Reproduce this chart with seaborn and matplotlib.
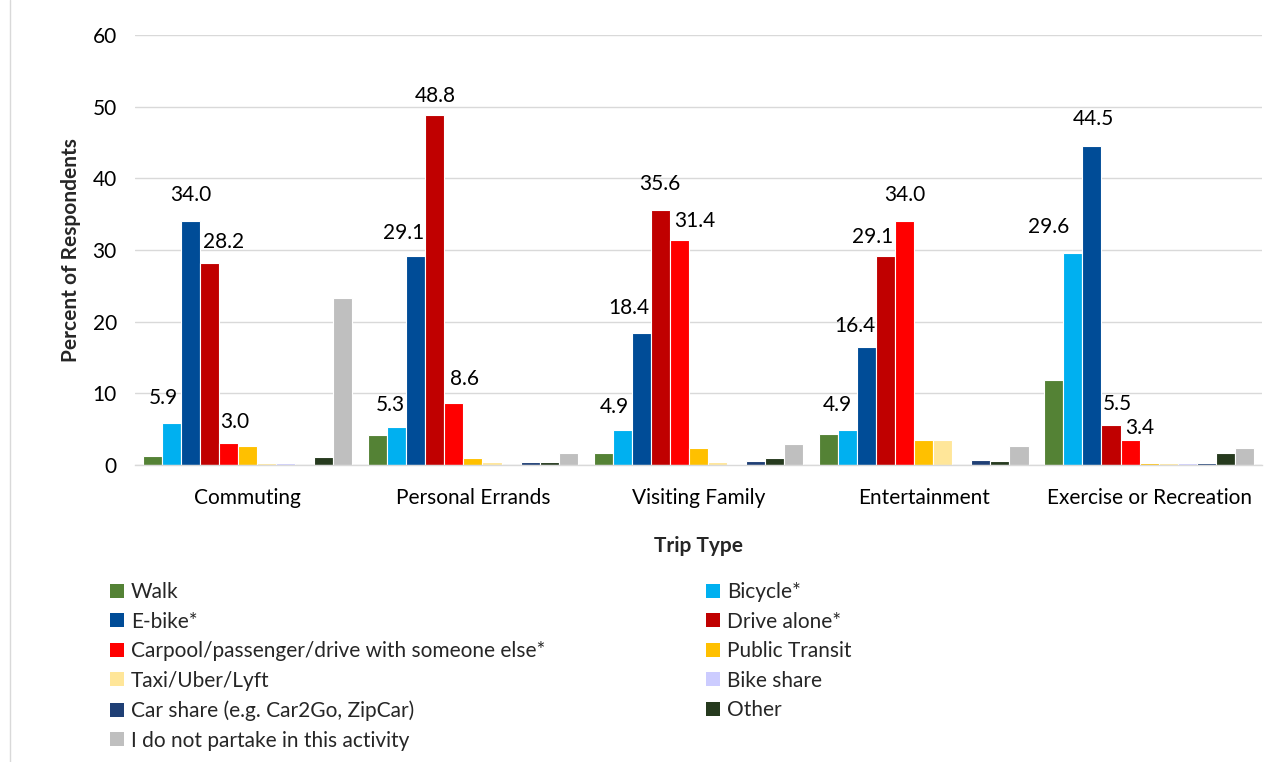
import matplotlib
matplotlib.use("Agg")
import matplotlib.pyplot as plt
import seaborn as sns
import pandas as pd
from matplotlib.patches import Patch
from matplotlib.lines import Line2D

trip_types = ["Commuting", "Personal Errands", "Visiting Family", "Entertainment", "Exercise or Recreation"]
modes = ["Walk", "Bicycle*", "E-bike*", "Drive alone*", "Carpool/passenger/drive with someone else*",
         "Public Transit", "Taxi/Uber/Lyft", "Bike share", "Car share (e.g. Car2Go, ZipCar)", "Other",
         "I do not partake in this activity"]
colors = ["#548235", "#00B0F0", "#004C97", "#C00000", "#FF0000", "#FFC000", "#FFE699", "#CCCCFF",
          "#1F3F75", "#263A1E", "#BFBFBF"]

walk = [1.3, 4.1, 1.7, 4.3, 11.8]
bicycle = [5.9, 5.3, 4.9, 4.9, 29.6]
ebike = [34.0, 29.1, 18.4, 16.4, 44.5]
drive_alone = [28.2, 48.8, 35.6, 29.1, 5.5]
carpool = [3.0, 8.6, 31.4, 34.0, 3.4]
transit = [2.6, 0.9, 2.3, 3.4, 0.3]
taxi = [0.2, 0.4, 0.4, 3.4, 0.2]
bike_share = [0.2, 0.0, 0.1, 0.0, 0.2]
car_share = [0.0, 0.4, 0.6, 0.7, 0.2]
other = [1.1, 0.4, 0.9, 0.6, 1.6]
no_activity = [23.3, 1.6, 2.9, 2.6, 2.4]

series = [walk, bicycle, ebike, drive_alone, carpool, transit, taxi, bike_share, car_share, other, no_activity]

# label placement nudges (pixels): horizontal shift and height of label centre above bar top
label_dx = {
    "Bicycle*": [-8, -6, -8, -10, -24],
    "E-bike*": [0, -12, -12, -12, 1],
    "Drive alone*": [14, 0, 0, -13, 6],
    "Carpool/passenger/drive with someone else*": [6, 11, 16, 0, 10],
}
label_dy = {
    "Bicycle*": [25, 22, 23, 25, 26],
    "E-bike*": [26, 23, 25, 21, 27],
    "Drive alone*": [21, 19, 26, 19, 21],
    "Carpool/passenger/drive with someone else*": [21, 24, 19, 26, 12],
}

rows = []
for m, vals in zip(modes, series):
    for t, v in zip(trip_types, vals):
        rows.append({"Trip Type": t, "Mode": m, "Value": v})
df = pd.DataFrame(rows)

sns.set_theme(style="white")
plt.rcParams["font.family"] = ["Lato", "DejaVu Sans"]

FS = 15
PX = 0.72  # points per pixel at 100 dpi
fig = plt.figure(figsize=(12.72, 7.62), dpi=100)
ax = fig.add_axes([0.106, 0.39, 0.886, 0.564])

sns.barplot(data=df, x="Trip Type", y="Value", hue="Mode", hue_order=modes, order=trip_types,
            palette=colors, width=0.93, ax=ax, legend=False, edgecolor="white", linewidth=0.8,
            saturation=1)

for cont, m in zip(ax.containers, modes):
    if m in label_dx:
        for j, (bar, v) in enumerate(zip(cont.patches, cont.datavalues)):
            x = bar.get_x() + bar.get_width() / 2
            ax.annotate(f"{v:.1f}", xy=(x, v), xytext=(label_dx[m][j] * PX, label_dy[m][j] * PX),
                        textcoords="offset points", ha="center", va="center", fontsize=FS,
                        color="#000000")

ax.set_ylim(0, 60)
ax.set_yticks(range(0, 61, 10))
ax.yaxis.grid(True, color="#D9D9D9", linewidth=1)
ax.set_axisbelow(True)
for s in ["top", "right", "left"]:
    ax.spines[s].set_visible(False)
ax.spines["bottom"].set_color("#D9D9D9")
ax.spines["bottom"].set_linewidth(1)
ax.tick_params(axis="both", labelsize=FS, colors="#000000", length=0)
ax.tick_params(axis="x", pad=17)
ax.tick_params(axis="y", pad=13)
ax.set_xlabel("Trip Type", fontsize=FS, fontweight="bold", labelpad=20)
ax.set_ylabel("Percent of Respondents", fontsize=FS, fontweight="bold", labelpad=8)

handles = [Patch(facecolor=c, edgecolor="none") for c in colors]
left_idx = [0, 2, 4, 6, 8, 10]
right_idx = [1, 3, 5, 7, 9]
common = dict(frameon=False, fontsize=FS, handlelength=0.65, handleheight=0.65, handletextpad=0.35,
              labelspacing=0.46, borderaxespad=0, borderpad=0)
fig.legend([handles[i] for i in left_idx], [modes[i] for i in left_idx], loc="upper left",
           bbox_to_anchor=(110 / 1272, 1 - 582 / 762), **common)
fig.legend([handles[i] for i in right_idx], [modes[i] for i in right_idx], loc="upper left",
           bbox_to_anchor=(706 / 1272, 1 - 582 / 762), **common)

fig.add_artist(Line2D([10 / 1272, 10 / 1272], [0, 1], color="#D9D9D9", linewidth=1,
                      transform=fig.transFigure))

fig.savefig("out.png", dpi=100)
